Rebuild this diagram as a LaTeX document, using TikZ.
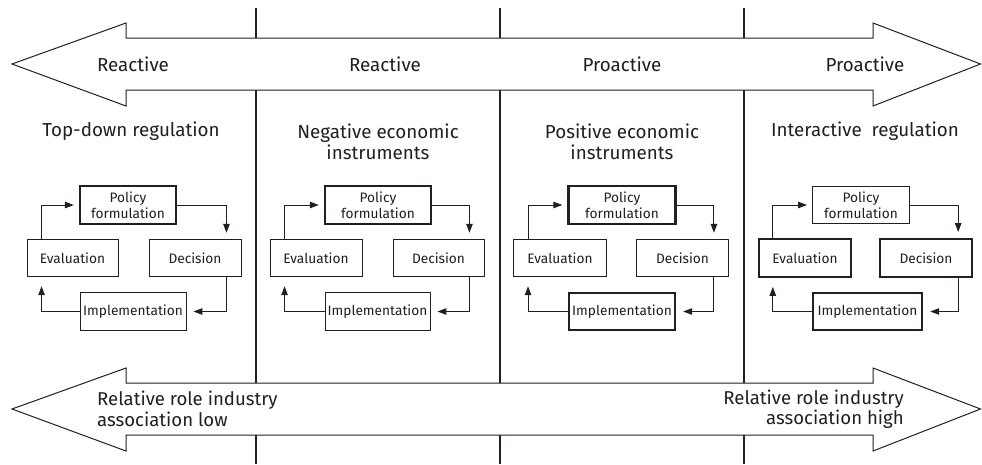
\documentclass[tikz,border=0pt]{standalone}
\usepackage{fontspec}
\setmainfont{Fira Sans}
\usetikzlibrary{arrows.meta}
\definecolor{ink}{RGB}{35,31,32}
\begin{document}
\begin{tikzpicture}[x=1pt,y=-1pt,
  box/.style={draw=ink, line width=0.9pt, fill=white, minimum height=37.5pt, align=center,
    inner sep=0pt, font=\fontsize{13.7}{15.8}\selectfont, text=ink},
  thickbox/.style={box, line width=2.4pt},
  cyc/.style={draw=ink, line width=1pt, -{Triangle[length=9pt,width=6.5pt]}},
  bigarrow/.style={draw=ink, line width=1pt, fill=white, line join=miter},
  sepline/.style={draw=ink, line width=1.2pt},
  lab/.style={font=\fontsize{18.8}{21.5}\selectfont, text=ink, align=center, inner sep=0pt},
  sidelab/.style={font=\fontsize{18.6}{20.5}\selectfont, text=ink, inner sep=0pt}]
\useasboundingbox (0,0) rectangle (982,464);
% separators
\foreach \x in {256,500,744} \draw[sepline] (\x,8) -- (\x,464);
% top arrow
\draw[bigarrow] (12,64) -- (126,23) -- (126,38) -- (873,38) -- (873,23) -- (980.5,64)
  -- (873,106) -- (873,90) -- (126,90) -- (126,106) -- cycle;
% bottom arrow
\draw[bigarrow] (12,409) -- (126,368) -- (126,383) -- (873,383) -- (873,368) -- (980.5,409)
  -- (873,451) -- (873,435) -- (126,435) -- (126,451) -- cycle;
% arrow labels
\node[lab] (r1) at (133,64) {Reactive};
\node[lab] (r2) at (385,64) {Reactive};
\node[lab] (a1) at (622,64) {Proactive};
\node[lab] (a2) at (865,64) {Proactive};
\node[sidelab, anchor=west, align=left] (low) at (97,409) {Relative role industry\\association low};
\node[sidelab, anchor=east, align=right] (high) at (904,409) {Relative role industry\\association high};
% panel titles
\node[lab] (t1) at (131,131) {Top-down regulation};
\node[lab] (t2) at (378,142) {Negative economic\\instruments};
\node[lab] (t3) at (622,142) {Positive economic\\instruments};
\node[lab] (t4) at (865,131) {Interactive\ \ regulation};
% cycles
\foreach \k/\px/\pw/\ps/\ex/\ew/\es/\dx/\dw/\ds/\ix/\iw/\is in {
  1/128/96/thickbox/72.5/91/box/195/92/box/133/106/box,
  2/378/106/thickbox/316/92/box/438.5/91/box/377.5/105/box,
  3/622/107/thickbox/560/93/box/682.5/92/box/622/106/thickbox,
  4/861/97/box/805/92/thickbox/926/92/thickbox/867.5/109/thickbox}{
  \node[\ps, minimum width=\pw pt] (p\k) at (\px,205) {Policy\\formulation};
  \node[\es, minimum width=\ew pt] (e\k) at (\ex,258) {Evaluation};
  \node[\ds, minimum width=\dw pt] (d\k) at (\dx,258) {Decision};
  \node[\is, minimum width=\iw pt] (i\k) at (\ix,311.5) {Implementation};
  \draw[cyc, shorten >=5pt] ([xshift=15pt]e\k.north west) |- (p\k.west);
  \draw[cyc, shorten >=6pt] (p\k.east) -| ([xshift=-15pt]d\k.north east);
  \draw[cyc, shorten >=7pt] ([xshift=-15pt]d\k.south east) |- (i\k.east);
  \draw[cyc, shorten >=9pt] (i\k.west) -| ([xshift=15pt]e\k.south west);
}
\end{tikzpicture}
\end{document}
